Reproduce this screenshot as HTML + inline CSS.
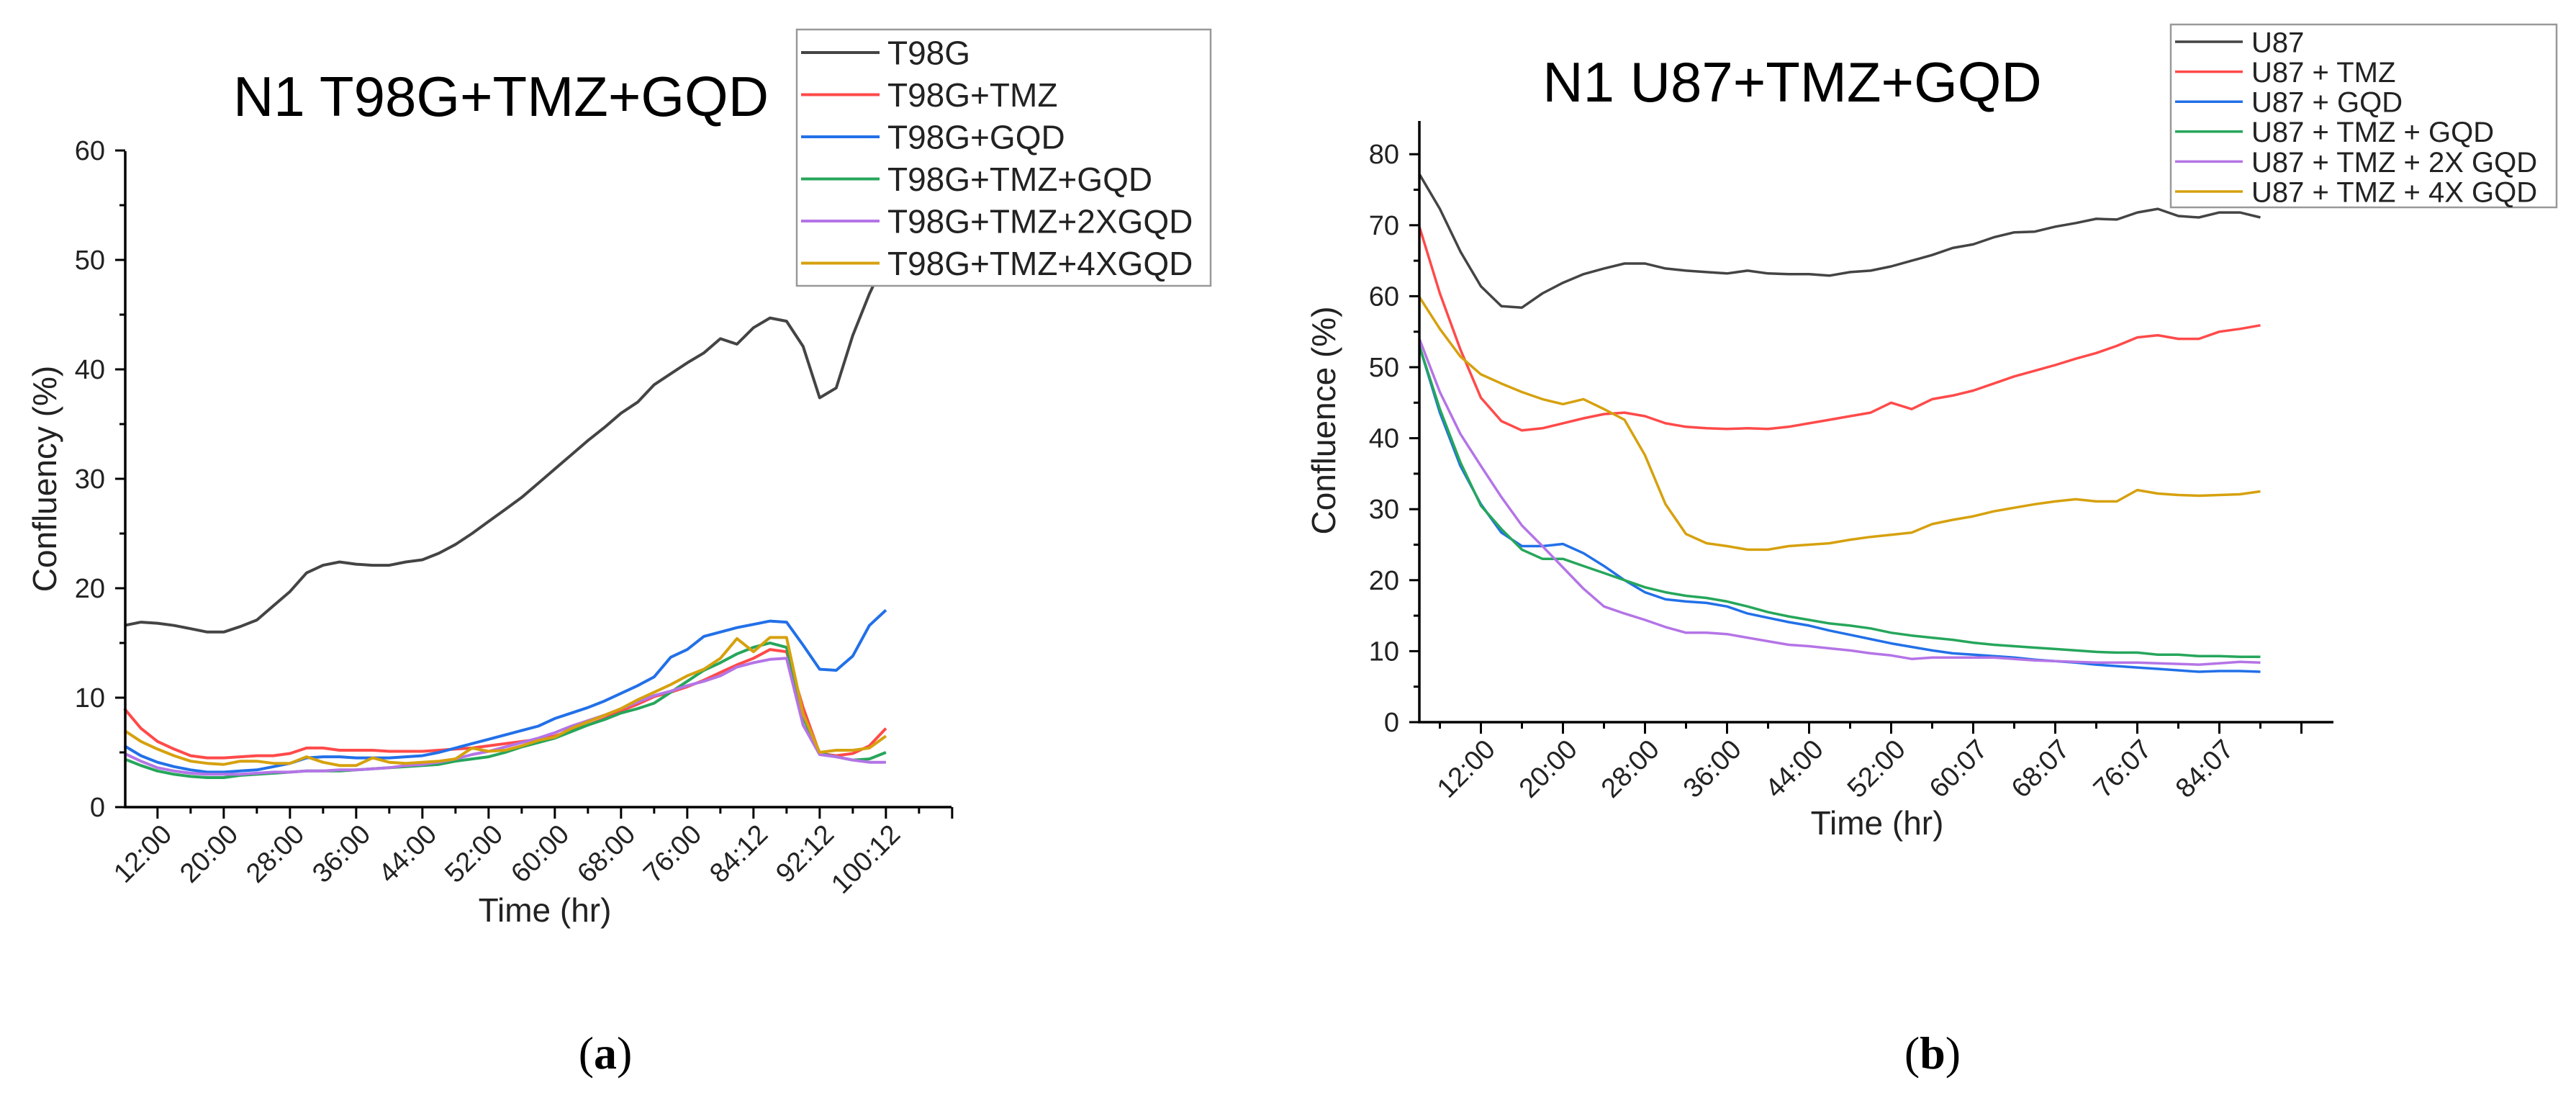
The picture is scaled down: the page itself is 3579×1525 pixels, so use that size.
<!DOCTYPE html>
<html><head><meta charset="utf-8"><style>
html,body{margin:0;padding:0;background:#fff;}
svg{display:block;font-family:"Liberation Sans",sans-serif;}
</style></head><body>
<svg id="fig" width="3579" height="1525" viewBox="0 0 3579 1525">
<g id="chartA"></g>
<g id="chartB"></g>
</svg>
<script>
// ---- Chart A data (T98G) ----
const timesA = [8,10,12,14,16,18,20,22,24,26,28,30,32,34,36,38,40,42,44,46,48,50,52,54,56,58,60,62,64,66,68,70,72,74,76,78,80,82,84,86,88,90,92,94,96,98,100];
const a_T98G = [16.6,16.9,16.8,16.6,16.3,16.0,16.0,16.5,17.1,18.4,19.7,21.4,22.1,22.4,22.2,22.1,22.1,22.4,22.6,23.2,24.0,25.0,26.1,27.2,28.3,29.6,30.9,32.2,33.5,34.7,36.0,37.0,38.6,39.6,40.6,41.5,42.8,42.3,43.8,44.7,44.4,42.1,37.4,38.3,43.1,46.9,50.1];
const a_TMZ = [9.0,7.2,6.0,5.3,4.7,4.5,4.5,4.6,4.7,4.7,4.9,5.4,5.4,5.2,5.2,5.2,5.1,5.1,5.1,5.2,5.3,5.4,5.6,5.8,6.0,6.2,6.5,7.0,7.5,8.1,8.8,9.4,10.1,10.5,11.0,11.6,12.3,13.0,13.6,14.4,14.2,9.1,4.9,4.7,4.9,5.6,7.2];
const a_GQD = [5.6,4.7,4.1,3.7,3.4,3.2,3.2,3.3,3.4,3.7,4.0,4.5,4.6,4.6,4.5,4.5,4.5,4.6,4.7,5.0,5.4,5.8,6.2,6.6,7.0,7.4,8.1,8.6,9.1,9.7,10.4,11.1,11.9,13.7,14.4,15.6,16.0,16.4,16.7,17.0,16.9,14.8,12.6,12.5,13.8,16.6,18.0];
const a_TMZGQD = [4.4,3.8,3.3,3.0,2.8,2.7,2.7,2.9,3.0,3.1,3.2,3.3,3.3,3.3,3.4,3.5,3.6,3.7,3.8,3.9,4.2,4.4,4.6,5.0,5.5,5.9,6.3,6.9,7.5,8.0,8.6,9.0,9.5,10.5,11.5,12.5,13.2,14.0,14.6,15.0,14.6,8.2,4.9,4.6,4.3,4.4,5.0];
const a_2X = [4.9,4.2,3.6,3.3,3.1,3.0,3.0,3.0,3.1,3.2,3.2,3.3,3.3,3.4,3.4,3.5,3.6,3.8,3.9,4.1,4.4,4.8,5.1,5.5,5.9,6.3,6.8,7.4,7.9,8.4,9.0,9.6,10.2,10.6,11.1,11.5,12.0,12.8,13.2,13.5,13.6,7.5,4.8,4.6,4.3,4.1,4.1];
const a_4X = [7.0,6.0,5.3,4.7,4.2,4.0,3.9,4.2,4.2,4.0,4.0,4.6,4.1,3.8,3.8,4.5,4.1,4.0,4.1,4.2,4.4,5.4,5.1,5.2,5.6,6.1,6.4,7.2,7.8,8.4,9.0,9.8,10.5,11.2,12.0,12.6,13.6,15.4,14.2,15.5,15.5,8.5,5.0,5.2,5.2,5.4,6.5];
const namesA = ["T98G","T98G+TMZ","T98G+GQD","T98G+TMZ+GQD","T98G+TMZ+2XGQD","T98G+TMZ+4XGQD"];
const ticksA = ["12:00","20:00","28:00","36:00","44:00","52:00","60:00","68:00","76:00","84:12","92:12","100:12"];
const yTicksA = [0,10,20,30,40,50,60];

// ---- Chart B data (U87) ----
const timesB = [6,8,10,12,14,16,18,20,22,24,26,28,30,32,34,36,38,40,42,44,46,48,50,52,54,56,58,60,62,64,66,68,70,72,74,76,78,80,82,84,86,88];
const b_U87 = [77.2,72.3,66.3,61.4,58.6,58.4,60.4,61.9,63.1,63.9,64.6,64.6,63.9,63.6,63.4,63.2,63.6,63.2,63.1,63.1,62.9,63.4,63.6,64.2,65.0,65.8,66.8,67.3,68.3,69.0,69.1,69.8,70.3,70.9,70.8,71.8,72.3,71.3,71.1,71.8,71.8,71.1];
const b_TMZ = [69.8,60.4,52.5,45.7,42.4,41.1,41.4,42.1,42.8,43.4,43.6,43.1,42.1,41.6,41.4,41.3,41.4,41.3,41.6,42.1,42.6,43.1,43.6,45.0,44.1,45.5,46.0,46.7,47.7,48.7,49.5,50.3,51.2,52.0,53.0,54.2,54.5,54.0,54.0,55.0,55.4,55.9];
const b_GQD = [53.0,43.6,36.1,30.7,26.7,24.8,24.8,25.1,23.8,22.0,20.0,18.3,17.3,17.0,16.8,16.3,15.3,14.7,14.1,13.6,12.9,12.3,11.7,11.1,10.6,10.1,9.7,9.5,9.3,9.1,8.8,8.6,8.4,8.1,7.9,7.7,7.5,7.3,7.1,7.2,7.2,7.1];
const b_TMZGQD = [53.0,44.1,36.6,30.5,27.2,24.3,23.0,23.0,22.0,21.0,20.0,19.0,18.3,17.8,17.5,17.0,16.3,15.5,14.9,14.4,13.9,13.6,13.2,12.6,12.2,11.9,11.6,11.2,10.9,10.7,10.5,10.3,10.1,9.9,9.8,9.8,9.5,9.5,9.3,9.3,9.2,9.2];
const b_2X = [54.0,46.5,40.6,36.1,31.7,27.7,24.8,21.8,18.8,16.3,15.3,14.4,13.4,12.6,12.6,12.4,11.9,11.4,10.9,10.7,10.4,10.1,9.7,9.4,8.9,9.1,9.1,9.1,9.1,8.9,8.7,8.6,8.5,8.4,8.4,8.4,8.3,8.2,8.1,8.3,8.5,8.4];
const b_4X = [59.9,55.4,51.5,49.0,47.7,46.5,45.5,44.8,45.5,44.1,42.6,37.6,30.7,26.5,25.2,24.8,24.3,24.3,24.8,25.0,25.2,25.7,26.1,26.4,26.7,27.9,28.5,29.0,29.7,30.2,30.7,31.1,31.4,31.1,31.1,32.7,32.2,32.0,31.9,32.0,32.1,32.5];
const namesB = ["U87","U87 + TMZ","U87 + GQD","U87 + TMZ + GQD","U87 + TMZ + 2X GQD","U87 + TMZ + 4X GQD"];
const ticksB = ["12:00","20:00","28:00","36:00","44:00","52:00","60:07","68:07","76:07","84:07"];
const yTicksB = [0,10,20,30,40,50,60,70,80];

const colors = ["#444444","#ff4a4a","#2270e8","#26a65b","#b474e6","#d6a10e"];
const slugs = ["control","tmz","gqd","tmz-gqd","tmz-2x-gqd","tmz-4x-gqd"];
const NS = "http://www.w3.org/2000/svg";
function mk(parent, tag, attrs, text) {
  const e = document.createElementNS(NS, tag);
  for (const k in attrs) e.setAttribute(k, attrs[k]);
  if (text !== undefined) e.textContent = text;
  parent.appendChild(e);
  return e;
}

function drawChart(g, cfg) {
  const X = t => cfg.x0 + (t - cfg.t0) * cfg.pxh;
  const Y = v => cfg.y0 - v * cfg.pxv;
  cfg.series.forEach((s, i) => {
    const d = s.map((v, k) => (k ? "L" : "M") + X(cfg.times[k]).toFixed(1) + " " + Y(v).toFixed(1)).join(" ");
    const p = mk(g, "path", {d: d, fill: "none", stroke: colors[i], "stroke-width": cfg.lw, "stroke-linejoin": "round"});
    
    
  });
  const ax = mk(g, "path", {d: `M${cfg.x0} ${cfg.yTop} L${cfg.x0} ${cfg.y0} L${cfg.xEnd} ${cfg.y0}`, fill: "none", stroke: "#000", "stroke-width": 3.5});
  
  
  cfg.yTicks.forEach(v => {
    mk(g, "line", {x1: cfg.x0 - 14, x2: cfg.x0, y1: Y(v), y2: Y(v), stroke: "#000", "stroke-width": 3});
    const tl = mk(g, "text", {x: cfg.x0 - 28, y: Y(v) + 13, "text-anchor": "end", "font-size": cfg.tickFs, fill: "#222"}, String(v));
    
    
    if (Y(v + 5) >= cfg.yTop) mk(g, "line", {x1: cfg.x0 - 8, x2: cfg.x0, y1: Y(v + 5), y2: Y(v + 5), stroke: "#000", "stroke-width": 3});
  });
  for (let t = cfg.tMajor0 - 4; X(t) <= cfg.xEnd + 1; t += 4) {
    if (X(t) < cfg.x0 - 1) continue;
    const major = ((t - cfg.tMajor0) % 8) === 0;
    mk(g, "line", {x1: X(t), x2: X(t), y1: cfg.y0, y2: cfg.y0 + (major ? 16 : 9), stroke: "#000", "stroke-width": 3});
  }
  cfg.xTicks.forEach((lab, i) => {
    const t = cfg.tMajor0 + 8 * i;
    const tx = X(t) + 22, ty = cfg.y0 + 40;
    const tl = mk(g, "text", {x: tx, y: ty, "text-anchor": "end", "font-size": cfg.tickFs, fill: "#222", transform: `rotate(-45 ${tx} ${ty})`}, lab);
    
    
  });
  const tt = mk(g, "text", {x: cfg.titleX, y: cfg.titleY, "text-anchor": "middle", "font-size": cfg.titleFs, fill: "#000"}, cfg.title);
  
  
  const yt = mk(g, "text", {x: 0, y: 0, "text-anchor": "middle", "font-size": 46, fill: "#222", transform: `translate(${cfg.ytX} ${cfg.ytY}) rotate(-90)`}, cfg.yTitle);
  
  
  const xt = mk(g, "text", {x: cfg.xtX, y: cfg.xtY, "text-anchor": "middle", "font-size": 46, fill: "#222"}, "Time (hr)");
  
  
  const pl = mk(g, "text", {x: cfg.plX, y: 1484, "text-anchor": "middle", "font-size": 64, fill: "#000", "font-family": "Liberation Serif, serif"});
  
  
  mk(pl, "tspan", {}, "(");
  mk(pl, "tspan", {"font-weight": "bold"}, cfg.panel);
  mk(pl, "tspan", {}, ")");
  const L = cfg.legend;
  const lg = mk(g, "g", {});
  
  
  mk(lg, "rect", {x: L.x, y: L.y, width: L.w, height: L.h, fill: "#fff", stroke: "#999", "stroke-width": 2.5});
  cfg.names.forEach((n, i) => {
    const ey = L.ey0 + i * L.dy;
    const e = mk(lg, "g", {});
    
    
    mk(e, "line", {x1: L.lx1, x2: L.lx2, y1: ey, y2: ey, stroke: colors[i], "stroke-width": cfg.lw});
    mk(e, "text", {x: L.tx, y: ey + L.fs * 0.36, "font-size": L.fs, fill: "#222"}, n);
  });
}

drawChart(document.getElementById("chartA"), {
  times: timesA, series: [a_T98G, a_TMZ, a_GQD, a_TMZGQD, a_2X, a_4X], names: namesA,
  x0: 174, t0: 8.1, pxh: 11.5, y0: 1121, pxv: 15.2, yTop: 210, xEnd: 1322, lw: 4,
  yTicks: yTicksA, xTicks: ticksA, tMajor0: 12, tickFs: 38,
  title: "N1 T98G+TMZ+GQD", titleX: 696, titleY: 161, titleFs: 78,
  yTitle: "Confluency (%)", ytX: 78, ytY: 665, xtX: 757, xtY: 1280, plX: 841, panel: "a",
  legend: {x: 1107, y: 41, w: 575, h: 356, ey0: 73, dy: 58.5, lx1: 1113, lx2: 1222, tx: 1233, fs: 46}
});
drawChart(document.getElementById("chartB"), {
  times: timesB, series: [b_U87, b_TMZ, b_GQD, b_TMZGQD, b_2X, b_4X], names: namesB,
  x0: 1972, t0: 6, pxh: 14.25, y0: 1003, pxv: 9.86, yTop: 168, xEnd: 3242, lw: 3.5,
  yTicks: yTicksB, xTicks: ticksB, tMajor0: 12, tickFs: 38,
  title: "N1 U87+TMZ+GQD", titleX: 2490, titleY: 141, titleFs: 78,
  yTitle: "Confluence (%)", ytX: 1855, ytY: 584, xtX: 2608, xtY: 1159, plX: 2685, panel: "b",
  legend: {x: 3016, y: 34, w: 536, h: 254, ey0: 58, dy: 41.6, lx1: 3022, lx2: 3116, tx: 3128, fs: 40}
});
</script>
</body></html>
